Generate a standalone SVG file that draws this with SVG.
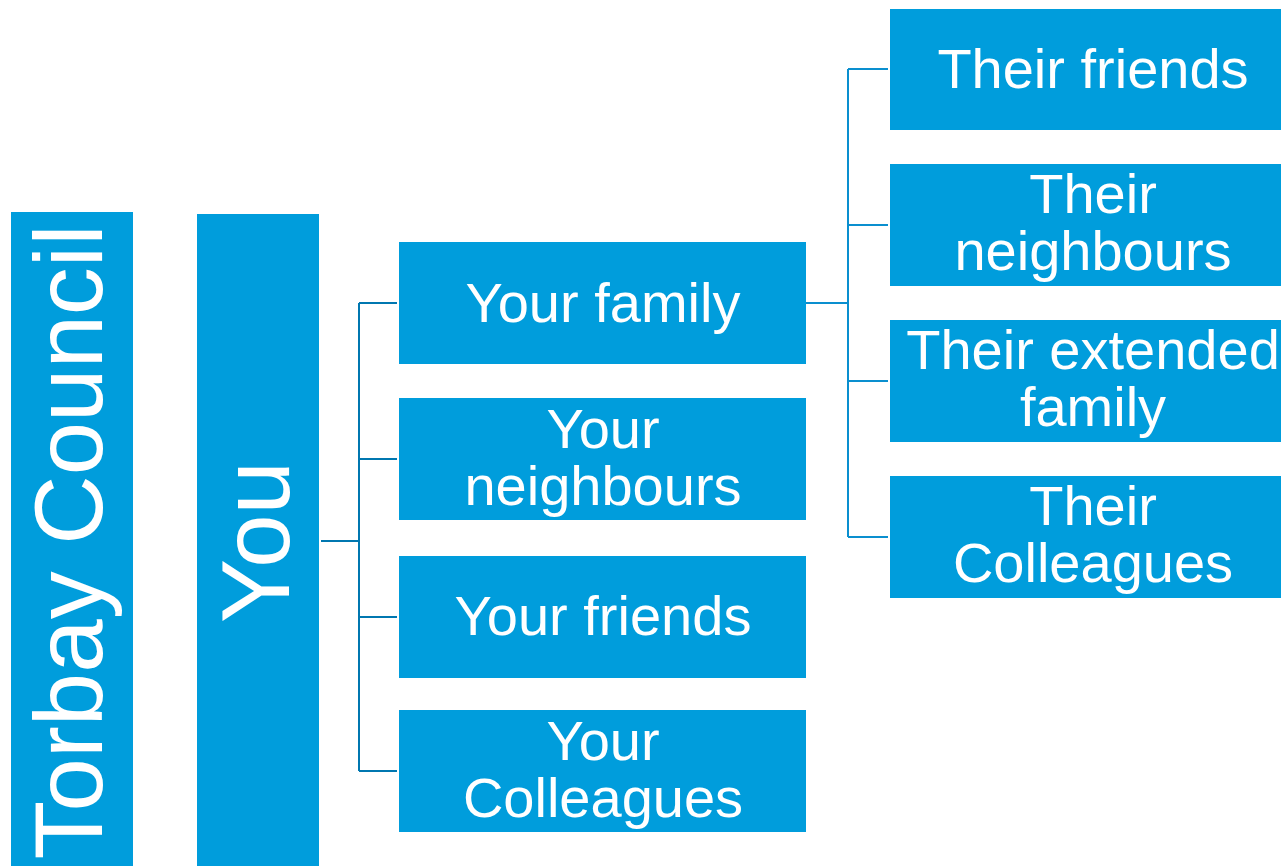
<svg xmlns="http://www.w3.org/2000/svg" width="1281" height="866" viewBox="0 0 1281 866">
<style>
.box{fill:#009DDC}
.t{fill:#fff;font-family:"Liberation Sans",Arial,sans-serif;font-size:56px;text-anchor:middle}
.big{fill:#fff;font-family:"Liberation Sans",Arial,sans-serif;font-size:96px;text-anchor:middle}
.c1{stroke:#0077B0;stroke-width:2;fill:none}
.c2{stroke:#0A8FCF;stroke-width:2;fill:none}
</style>
<rect width="1281" height="866" fill="#fff"/>
<g id="connectors">
<path class="c1" d="M321 541H359M359 303V771M359 303H397M359 459H397M359 617H397M359 771H397"/>
<path class="c2" d="M806 303H848M848 69V537M848 69H888M848 225H888M848 381H888M848 537H888"/>
</g>
<g id="torbay"><rect class="box" x="11" y="212" width="122" height="654"/><text class="big" transform="translate(102 542) rotate(-90)">Torbay Council</text></g>
<g id="you"><rect class="box" x="197" y="214" width="122" height="652"/><text class="big" transform="translate(289 542) rotate(-90)">You</text></g>
<g id="your-family"><rect class="box" x="399" y="242" width="407" height="122"/><text class="t" x="603" y="322">Your family</text></g>
<g id="your-neighbours"><rect class="box" x="399" y="398" width="407" height="122"/><text class="t" x="603" y="448">Your</text><text class="t" x="603" y="505">neighbours</text></g>
<g id="your-friends"><rect class="box" x="399" y="556" width="407" height="122"/><text class="t" x="603" y="635">Your friends</text></g>
<g id="your-colleagues"><rect class="box" x="399" y="710" width="407" height="122"/><text class="t" x="603" y="760">Your</text><text class="t" x="603" y="817">Colleagues</text></g>
<g id="their-friends"><rect class="box" x="890" y="9" width="391" height="121"/><text class="t" x="1093" y="88">Their friends</text></g>
<g id="their-neighbours"><rect class="box" x="890" y="164" width="391" height="122"/><text class="t" x="1093" y="213">Their</text><text class="t" x="1093" y="270">neighbours</text></g>
<g id="their-extended-family"><rect class="box" x="890" y="320" width="391" height="122"/><text class="t" x="1093" y="369">Their extended</text><text class="t" x="1093" y="426">family</text></g>
<g id="their-colleagues"><rect class="box" x="890" y="476" width="391" height="122"/><text class="t" x="1093" y="525">Their</text><text class="t" x="1093" y="582">Colleagues</text></g>
</svg>
